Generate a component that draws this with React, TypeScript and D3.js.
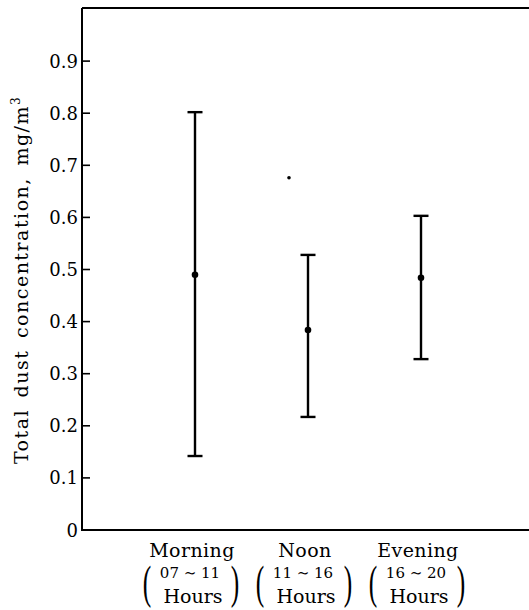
import { useEffect, useRef } from 'react'
import * as d3 from 'd3'

const W = 529
const H = 610
const M = { top: 9, right: 0, bottom: 80, left: 82 }

const periods = ['Morning', 'Noon', 'Evening']
const hourRanges = ['07 ∼ 11', '11 ∼ 16', '16 ∼ 20']
const means = [0.49, 0.384, 0.484]
const lows = [0.142, 0.217, 0.328]
const highs = [0.802, 0.528, 0.603]
const yTicks = [0, 0.1, 0.2, 0.3, 0.4, 0.5, 0.6, 0.7, 0.8, 0.9]
// stray point drawn beside the Noon bar
const outliers = [{ period: 'Noon', value: 0.676 }]

const FONT = '"DejaVu Serif", "Liberation Serif", serif'

export default function App() {
  const svgRef = useRef<SVGSVGElement | null>(null)

  useEffect(() => {
    if (!svgRef.current) return
    const svg = d3.select(svgRef.current)
    svg.selectAll('*').remove()

    const bottom = H - M.bottom

    const x = d3.scalePoint<string>()
      .domain(periods)
      .range([195, 421])

    const y = d3.scaleLinear()
      .domain([0, 1])
      .range([bottom, M.top])

    // frame: left axis, bottom axis, top border
    svg.append('line').attr('x1', M.left).attr('x2', M.left)
      .attr('y1', M.top - 1).attr('y2', bottom + 1)
      .attr('stroke', '#000').attr('stroke-width', 2)
    svg.append('line').attr('x1', M.left).attr('x2', W)
      .attr('y1', bottom).attr('y2', bottom)
      .attr('stroke', '#000').attr('stroke-width', 2)
    svg.append('line').attr('x1', M.left).attr('x2', W)
      .attr('y1', M.top - 1).attr('y2', M.top - 1)
      .attr('stroke', '#000').attr('stroke-width', 2)

    // inward ticks + labels
    const ticks = svg.append('g')
    ticks.selectAll('line').data(yTicks.filter(d => d > 0)).join('line')
      .attr('x1', M.left).attr('x2', M.left + 8)
      .attr('y1', d => y(d)).attr('y2', d => y(d))
      .attr('stroke', '#000').attr('stroke-width', 1.6)
    ticks.selectAll('text').data(yTicks).join('text')
      .attr('x', M.left - 4).attr('y', d => y(d) + 6.5)
      .attr('text-anchor', 'end')
      .attr('font-family', FONT).attr('font-size', 18)
      .text(d => (d === 0 ? '0' : d.toFixed(1)))

    // y title
    svg.append('text')
      .attr('transform', `translate(28,${280}) rotate(-90)`)
      .attr('text-anchor', 'middle')
      .attr('font-family', FONT).attr('font-size', 19)
      .attr('letter-spacing', 1.5).attr('word-spacing', 4)
      .call(t => {
        t.append('tspan').text('Total dust concentration, mg/m')
        t.append('tspan').attr('dy', -8).attr('font-size', 12).text('3')
      })

    // error bars
    const g = svg.append('g')
    const capW = 15
    periods.forEach((p, i) => {
      const cx = x(p)!
      g.append('line').attr('x1', cx).attr('x2', cx)
        .attr('y1', y(highs[i])).attr('y2', y(lows[i]))
        .attr('stroke', '#000').attr('stroke-width', 2.4)
      ;[highs[i], lows[i]].forEach(v => {
        g.append('line').attr('x1', cx - capW / 2).attr('x2', cx + capW / 2)
          .attr('y1', y(v)).attr('y2', y(v))
          .attr('stroke', '#000').attr('stroke-width', 2.4)
      })
      g.append('circle').attr('cx', cx).attr('cy', y(means[i])).attr('r', 3.3).attr('fill', '#000')
    })

    outliers.forEach(o => {
      g.append('circle').attr('cx', x(o.period)! - 19).attr('cy', y(o.value))
        .attr('r', 1.8).attr('fill', '#000')
    })

    // x category labels
    const lab = svg.append('g').attr('font-family', FONT)
    periods.forEach((p, i) => {
      const cx = x(p)! - 3
      lab.append('text').attr('x', cx).attr('y', 557)
        .attr('text-anchor', 'middle').attr('font-size', 19).attr('letter-spacing', 0.4)
        .text(p)
      lab.append('text').attr('x', cx - 2).attr('y', 578)
        .attr('text-anchor', 'middle').attr('font-size', 15)
        .text(hourRanges[i])
      lab.append('text').attr('x', cx + 1).attr('y', 603)
        .attr('text-anchor', 'middle').attr('font-size', 19)
        .text('Hours')
      ;[['(', -45], [')', 43]].forEach(([ch, dx]) => {
        lab.append('text')
          .attr('transform', `translate(${cx + (dx as number)},598) scale(0.75,1.35)`)
          .attr('text-anchor', 'middle').attr('font-size', 34)
          .attr('font-family', '"Liberation Serif", serif')
          .text(ch as string)
      })
    })
  }, [])

  return (
    <svg
      ref={svgRef}
      width={W}
      height={H}
      style={{ position: 'absolute', left: 0, top: 0, display: 'block', background: '#fff' }}
    />
  )
}
